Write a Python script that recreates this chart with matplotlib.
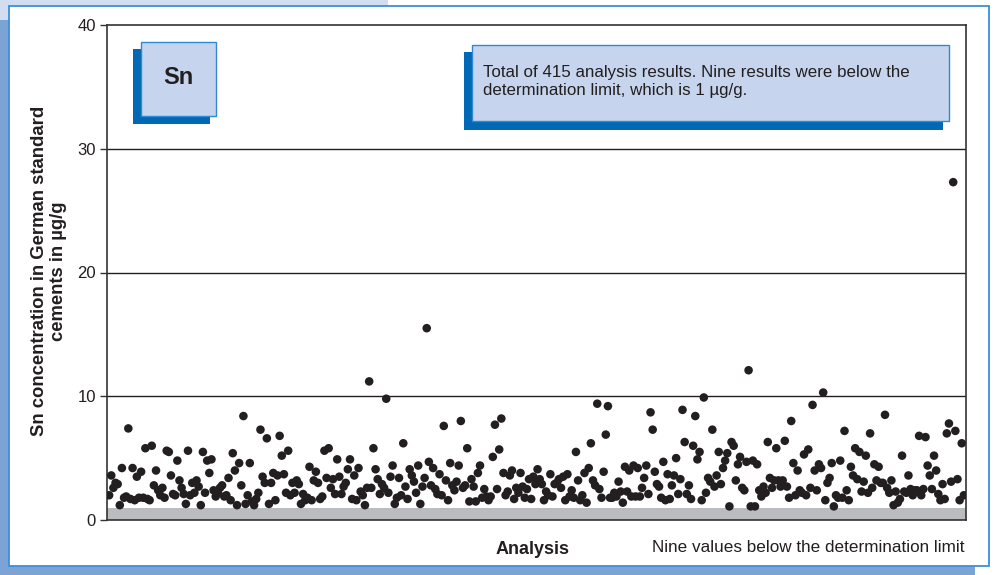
import numpy as np
import matplotlib
matplotlib.use("Agg")
import matplotlib.pyplot as plt
from matplotlib.patches import Rectangle

plt.rcParams["font.family"] = ["Liberation Sans", "DejaVu Sans"]

# =========================
# DATOS (µg/g Sn, en orden de análisis)
# =========================
seg1 = [2.0, 3.6, 2.6, 3.0, 2.9, 1.2, 4.2, 1.8, 1.9, 7.4, 1.7, 4.2, 1.6, 3.5, 1.8,
        3.9, 1.8, 5.8, 1.7, 1.6, 6.0, 2.8, 4.0, 2.4, 2.0, 2.6, 1.8, 5.6, 5.5, 3.6,
        2.1, 2.0, 4.8, 3.2, 2.6, 2.1, 1.3, 5.6, 2.0, 3.0, 2.2, 3.2, 2.7, 1.2, 5.5,
        2.2, 4.8, 3.8, 4.9, 2.4, 1.9]
seg2 = [2.2, 2.6, 2.8, 1.9, 2.0, 3.4, 1.6, 5.4, 4.0, 1.2, 4.6, 2.8, 8.4, 1.3, 2.0,
        4.6, 1.5, 1.2, 1.7, 2.2, 7.3, 3.5, 3.0, 6.6, 1.3, 3.0, 3.8, 1.6, 3.6, 6.8,
        5.2, 3.7, 2.2, 5.6, 2.0, 3.0, 2.2, 3.2, 2.9, 1.3, 2.1, 1.6, 1.8, 4.3, 1.6,
        3.2, 3.9, 3.0, 1.7, 1.9, 5.6]
seg3 = [3.4, 5.8, 2.6, 3.3, 2.1, 4.9, 3.5, 2.1, 2.7, 3.0, 4.1, 4.9, 1.7, 3.6, 1.6,
        4.2, 2.3, 2.0, 1.2, 2.6, 11.2, 2.6, 5.8, 4.1, 3.3, 2.1, 2.9, 2.6, 9.8, 2.2,
        3.5, 4.4, 1.3, 1.8, 3.4, 2.0, 6.2, 2.7, 1.7, 4.1, 3.6, 3.1, 2.2, 4.4, 1.3,
        2.7, 3.4, 15.5, 4.7, 2.8]
seg4 = [4.2, 2.5, 2.1, 3.7, 2.0, 7.6, 3.2, 1.6, 4.6, 2.8, 2.4, 3.1, 4.4, 8.0, 2.6,
        2.8, 5.8, 1.5, 3.3, 2.7, 1.5, 3.8, 4.4, 1.8, 2.5, 1.9, 1.6, 1.9, 5.1, 7.7,
        2.5, 5.7, 8.2, 3.8, 2.0, 2.3, 3.6, 4.0, 1.7, 2.6, 2.2, 3.8, 2.7, 1.8, 2.5,
        3.3, 1.7, 3.5, 2.9, 4.1]
seg5 = [3.3, 2.9, 1.6, 2.3, 2.0, 3.7, 1.9, 2.9, 3.0, 3.3, 2.6, 3.5, 1.6, 3.7, 1.9,
        2.4, 1.8, 5.5, 3.2, 1.6, 2.0, 3.8, 1.4, 4.2, 6.2, 3.2, 2.8, 9.4, 2.5, 1.8,
        3.9, 6.9, 9.2, 1.8, 1.8, 2.2, 1.9, 3.1, 2.3, 1.4, 4.3, 2.3, 4.0, 1.9, 4.4,
        1.9, 4.2, 1.9, 2.6, 3.4]
seg6 = [4.4, 2.1, 8.7, 7.3, 3.9, 2.9, 2.7, 1.8, 4.7, 1.6, 3.7, 1.7, 2.8, 3.6, 5.0,
        2.1, 3.3, 8.9, 6.3, 2.1, 2.8, 1.7, 6.0, 8.4, 4.9, 5.5, 1.6, 9.9, 2.2, 3.4,
        3.1, 7.3, 2.7, 3.6, 5.5, 2.9, 4.2, 4.8, 5.4, 1.1, 6.3, 6.0, 3.2, 4.5, 5.1,
        2.6, 2.4, 4.7, 12.1, 1.1, 4.8]
seg7 = [1.1, 4.5, 2.4, 1.9, 2.7, 2.2, 6.3, 3.4, 2.6, 3.2, 5.8, 3.2, 2.7, 3.2, 6.4,
        2.7, 1.8, 8.0, 4.6, 2.0, 4.0, 2.4, 2.2, 5.3, 2.0, 5.7, 2.6, 9.3, 4.0, 2.4,
        4.5, 4.2, 10.3, 1.6, 3.0, 3.4, 4.6, 1.1, 2.0, 1.8, 4.8, 1.8, 7.2, 2.4, 1.6,
        4.3, 3.6, 5.8, 3.3, 5.5, 2.3]
seg8 = [3.1, 5.2, 2.2, 7.0, 2.6, 4.5, 3.2, 4.3, 3.0, 3.0, 8.5, 2.6, 2.2, 3.2, 1.2,
        2.3, 1.4, 1.7, 5.2, 2.3, 2.2, 3.6, 2.5, 2.0, 2.4, 2.4, 6.8, 2.0, 2.5, 6.7,
        4.4, 3.6, 2.5, 5.2, 4.0, 2.1, 1.6, 2.9, 1.7, 7.0, 7.8, 3.1, 27.3, 7.2, 3.3,
        1.6, 6.2, 2.0]

werte = seg1 + seg2 + seg3 + seg4 + seg5 + seg6 + seg7 + seg8
y_ticks = [0, 10, 20, 30, 40]
grenze = 1

W, H = 996, 575


def box(x0, y0, x1, y1):
    # Pixel (oben links) -> Figurkoordinaten
    return (x0 / W, 1 - y1 / H), (x1 - x0) / W, (y1 - y0) / H


fig = plt.figure(figsize=(W / 100, H / 100), dpi=100)
fig.patch.set_facecolor("white")

# Hintergrundrahmen
for (x0, y0, x1, y1), col in [((0, 0, 388, 20), "#d3ddf1"),
                              ((0, 20, 12, 575), "#7ba3d6"),
                              ((0, 560, 975, 575), "#7ba3d6")]:
    xy, w, h = box(x0, y0, x1, y1)
    fig.add_artist(Rectangle(xy, w, h, transform=fig.transFigure,
                             facecolor=col, edgecolor="none", zorder=-3))
xy, w, h = box(9, 6, 989, 566)
fig.add_artist(Rectangle(xy, w, h, transform=fig.transFigure, facecolor="white",
                         edgecolor="#3d8fd6", linewidth=1.3, zorder=-2))

ax = fig.add_axes([107 / W, 1 - 520 / H, 859 / W, 495 / H])
ax.set_facecolor("white")

x = np.arange(1, len(werte) + 1)
ax.axhspan(0, grenze, color="#bbbcbf", zorder=1, lw=0)
for t in y_ticks[1:-1]:
    ax.axhline(t, color="#231f20", lw=1.0, zorder=1)
ax.scatter(x, werte, s=38, color="#231f20", edgecolors="none", zorder=3)

ax.set_xlim(0, len(werte) + 1)
ax.set_ylim(0, 40)
ax.set_yticks(y_ticks)
ax.set_xticks([])
ax.tick_params(axis="y", direction="out", length=5, width=1, color="#333333",
               labelsize=12, labelcolor="#231f20", pad=3)
for s in ax.spines.values():
    s.set_color("#333333")
    s.set_linewidth(1.2)

# Beschriftungen
fig.text(49 / W, 1 - 271 / H,
         "Sn concentration in German standard\ncements in \u00b5g/g",
         rotation=90, ha="center", va="center", fontsize=13.3,
         fontweight="bold", color="#231f20", linespacing=1.1)
fig.text(533 / W, 1 - 549 / H, "Analysis", ha="center", va="center",
         fontsize=13, fontweight="bold", color="#231f20")
fig.text(965 / W, 1 - 548 / H, "Nine values below the determination limit",
         ha="right", va="center", fontsize=12.3, color="#231f20")

# Kästen mit Schatten
for (sx0, sy0, sx1, sy1), (fx0, fy0, fx1, fy1) in [((133, 49, 210, 124), (141, 42, 216, 116)),
                                                    ((464, 52, 943, 130), (472, 45, 949, 121))]:
    xy, w, h = box(sx0, sy0, sx1, sy1)
    fig.add_artist(Rectangle(xy, w, h, transform=fig.transFigure,
                             facecolor="#0068b4", edgecolor="none", zorder=4))
    xy, w, h = box(fx0, fy0, fx1, fy1)
    fig.add_artist(Rectangle(xy, w, h, transform=fig.transFigure,
                             facecolor="#c6d5ed", edgecolor="#2f8ad0", lw=1.0, zorder=5))

fig.text(178 / W, 1 - 78 / H, "Sn", ha="center", va="center", fontsize=17,
         fontweight="bold", color="#231f20", zorder=6)
info = ["Total of 415 analysis results. Nine results were below the",
        "determination limit, which is 1 \u00b5g/g."]
for zeile, ypx in zip(info, [73, 90]):
    fig.text(483 / W, 1 - ypx / H, zeile, ha="left", va="center",
             fontsize=12.2, color="#231f20", zorder=6)

plt.savefig("out.png", dpi=100)
plt.close()
